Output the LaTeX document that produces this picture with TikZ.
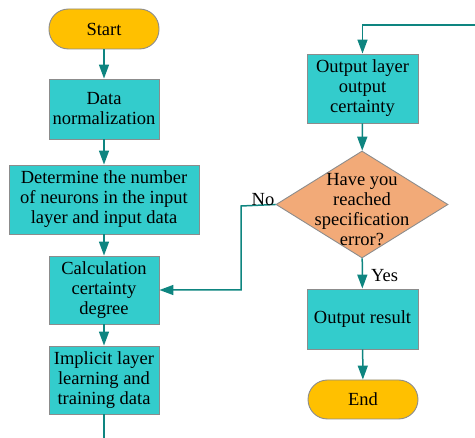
\documentclass[tikz,border=0pt]{standalone}
\usepackage{fontspec}
\setmainfont{Liberation Serif}
\usetikzlibrary{arrows.meta,shapes.geometric}
\definecolor{boxfill}{HTML}{33CCCC}
\definecolor{termfill}{HTML}{FFC000}
\definecolor{decfill}{HTML}{F2AA78}
\definecolor{flow}{HTML}{0E8580}
\definecolor{edgegray}{HTML}{8C8C8C}
\tikzset{
  every node/.style={font=\fontsize{18.5}{20}\selectfont, inner sep=0pt},
  procbox/.style={draw=edgegray, line width=0.9pt, fill=boxfill, align=center},
  termbox/.style={draw=edgegray, line width=0.9pt, fill=termfill, rounded corners=19.5pt,
    minimum width=110pt, minimum height=40pt},
  decbox/.style={diamond, draw=edgegray, line width=0.9pt, fill=decfill, align=center,
    minimum width=172pt, minimum height=107pt, aspect=1.6},
  flowline/.style={draw=flow, line width=1.5pt, -{Triangle[width=10pt,length=14pt]}},
  plainline/.style={draw=flow, line width=1.5pt},
}
\begin{document}
\begin{tikzpicture}[x=1pt,y=-1pt]
\useasboundingbox (0,0) rectangle (475,438);
% left column
\node[termbox] (start) at (104,29) {Start};
\node[procbox, minimum width=110pt, minimum height=60pt] (norm) at (104,109) {Data\\normalization};
\node[procbox, minimum width=190pt, minimum height=69pt] (neur) at (104,199.5) {Determine the number\\of neurons in the input\\layer and input data};
\node[procbox, minimum width=110pt, minimum height=68pt] (calc) at (104,290) {Calculation\\certainty\\degree};
\node[procbox, minimum width=110pt, minimum height=68pt] (hidden) at (104,380) {Implicit layer\\learning and\\training data};
\coordinate (leftout) at (104,438);
% right column
\coordinate (rightin) at (475,25);
\coordinate (rightturn) at (362.5,25);
\node[procbox, minimum width=111pt, minimum height=69pt] (outl) at (362.5,88.5) {Output layer\\output\\certainty};
\node[decbox] (check) at (362,204.5) {};
\node[align=center] at (362,210) {Have you\\reached\\specification\\error?};
\node[procbox, minimum width=111pt, minimum height=60pt] (res) at (362.5,319) {Output result};
\node[termbox, minimum width=110pt, minimum height=39pt] (finish) at (363,399.5) {End};
\coordinate (nobend1) at (241,206);
\coordinate (nobend2) at (241,290);
% connectors
\draw[flowline] (start) -- (norm);
\draw[flowline] (norm) -- (neur);
\draw[flowline] (neur) -- (calc);
\draw[flowline] (calc) -- (hidden);
\draw[plainline] (hidden) -- (leftout);
\draw[flowline] (rightin) -- (rightturn) -- (outl);
\draw[flowline] (outl) -- (check);
\draw[flowline] (check) -- node[right, xshift=8pt, yshift=-2pt] {Yes} (res);
\draw[flowline] (res) -- (finish);
\draw[flowline] (check.west) -- (nobend1) -- (nobend2) -- (calc.east);
\node at (263,200) {No};
\end{tikzpicture}
\end{document}
